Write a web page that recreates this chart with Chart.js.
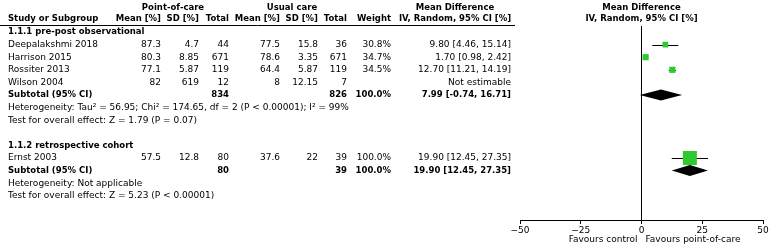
<!DOCTYPE html>
<html>
<head>
<meta charset="utf-8">
<script src="https://cdn.jsdelivr.net/npm/chart.js@4.4.1/dist/chart.umd.min.js"></script>
<style>
  html, body { margin: 0; padding: 0; background: #fff; }
  canvas { display: block; }
</style>
</head>
<body>
<canvas id="forest" width="773" height="245"></canvas>
<script>
// study level data
const studyNames = ['Deepalakshmi 2018', 'Harrison 2015', 'Rossiter 2013', 'Wilson 2004', 'Ernst 2003'];
const studyRows = [1, 2, 3, 4, 10];
const pocMean = [87.3, 80.3, 77.1, 82, 57.5];
const pocSD = [4.7, 8.85, 5.87, 619, 12.8];
const pocN = [44, 671, 119, 12, 80];
const ucMean = [77.5, 78.6, 64.4, 8, 37.6];
const ucSD = [15.8, 3.35, 5.87, 12.15, 22];
const ucN = [36, 671, 119, 7, 39];
const weights = [30.8, 34.7, 34.5, null, 100.0];
const meanDiff = [9.80, 1.70, 12.70, null, 19.90];
const ciLow = [4.46, 0.98, 11.21, null, 12.45];
const ciHigh = [15.14, 2.42, 14.19, null, 27.35];

// subgroups
const groupNames = ['1.1.1 pre-post observational', '1.1.2 retrospective cohort'];
const groupRows = [0, 9];
const subRows = [5, 11];
const subPocN = [834, 80];
const subUcN = [826, 39];
const subWeight = [100.0, 100.0];
const subMd = [7.99, 19.90];
const subLow = [-0.74, 12.45];
const subHigh = [16.71, 27.35];
const hetText = ['Heterogeneity: Tau\u00b2 = 56.95; Chi\u00b2 = 174.65, df = 2 (P < 0.00001); I\u00b2 = 99%', 'Heterogeneity: Not applicable'];
const testText = ['Test for overall effect: Z = 1.79 (P = 0.07)', 'Test for overall effect: Z = 5.23 (P < 0.00001)'];

const xTicks = [-50, -25, 0, 25, 50];

const FONT = '"DejaVu Sans", Verdana, sans-serif';
const GREEN = '#30c830';

// right edges of the table columns
const colX = { pocMean: 161, pocSD: 199, pocN: 229, ucMean: 280, ucSD: 318, ucN: 347, weight: 391, md: 511 };

function ciText(m, lo, hi) {
    return m.toFixed(2) + ' [' + lo.toFixed(2) + ', ' + hi.toFixed(2) + ']';
}

const tablePlugin = {
    id: 'forestTable',
    beforeDatasetsDraw(chart) {
        const ctx = chart.ctx;
        const xs = chart.scales.x, ys = chart.scales.y;
        ctx.save();
        ctx.strokeStyle = '#000';
        ctx.lineWidth = 1;
        // whiskers
        studyRows.forEach((r, i) => {
            if (meanDiff[i] == null) return;
            const y = Math.round(ys.getPixelForValue(r)) + 0.5;
            ctx.beginPath();
            ctx.moveTo(xs.getPixelForValue(ciLow[i]), y);
            ctx.lineTo(xs.getPixelForValue(ciHigh[i]), y);
            ctx.stroke();
        });
        ctx.restore();
    },
    afterDatasetsDraw(chart) {
        const ctx = chart.ctx;
        const xs = chart.scales.x, ys = chart.scales.y;
        ctx.save();
        // subtotal diamonds
        ctx.fillStyle = '#000';
        subRows.forEach((r, i) => {
            const y = ys.getPixelForValue(r);
            ctx.beginPath();
            ctx.moveTo(xs.getPixelForValue(subLow[i]), y);
            ctx.lineTo(xs.getPixelForValue(subMd[i]), y - 5.5);
            ctx.lineTo(xs.getPixelForValue(subHigh[i]), y);
            ctx.lineTo(xs.getPixelForValue(subMd[i]), y + 5.5);
            ctx.closePath();
            ctx.fill();
        });

        const reg = '9px ' + FONT;
        const bold = 'bold 8.5px ' + FONT;
        ctx.textBaseline = 'middle';
        const txt = (s, x, y, align, font) => {
            ctx.font = font || reg;
            ctx.textAlign = align || 'left';
            ctx.fillText(s, x, y);
        };

        // header
        const zeroX = xs.getPixelForValue(0);
        txt('Point-of-care', 173, 8, 'center', bold);
        txt('Usual care', 292, 8, 'center', bold);
        txt('Mean Difference', 455, 8, 'center', bold);
        txt('Mean Difference', zeroX, 8, 'center', bold);
        txt('Study or Subgroup', 8, 19, 'left', bold);
        txt('Mean [%]', colX.pocMean, 19, 'right', bold);
        txt('SD [%]', colX.pocSD, 19, 'right', bold);
        txt('Total', colX.pocN, 19, 'right', bold);
        txt('Mean [%]', colX.ucMean, 19, 'right', bold);
        txt('SD [%]', colX.ucSD, 19, 'right', bold);
        txt('Total', colX.ucN, 19, 'right', bold);
        txt('Weight', colX.weight, 19, 'right', bold);
        txt('IV, Random, 95% CI [%]', 455, 19, 'center', bold);
        txt('IV, Random, 95% CI [%]', zeroX, 19, 'center', bold);
        ctx.strokeStyle = '#000';
        ctx.lineWidth = 1;
        ctx.beginPath();
        ctx.moveTo(0, 25.5);
        ctx.lineTo(515, 25.5);
        ctx.stroke();

        // study rows
        ctx.fillStyle = '#000';
        studyRows.forEach((r, i) => {
            const y = ys.getPixelForValue(r);
            txt(studyNames[i], 8, y);
            txt(String(pocMean[i]), colX.pocMean, y, 'right');
            txt(String(pocSD[i]), colX.pocSD, y, 'right');
            txt(String(pocN[i]), colX.pocN, y, 'right');
            txt(String(ucMean[i]), colX.ucMean, y, 'right');
            txt(String(ucSD[i]), colX.ucSD, y, 'right');
            txt(String(ucN[i]), colX.ucN, y, 'right');
            if (weights[i] != null) txt(weights[i].toFixed(1) + '%', colX.weight, y, 'right');
            txt(meanDiff[i] == null ? 'Not estimable' : ciText(meanDiff[i], ciLow[i], ciHigh[i]), colX.md, y, 'right');
        });

        // subgroup rows
        groupRows.forEach((r, i) => {
            txt(groupNames[i], 8, ys.getPixelForValue(r), 'left', bold);
            const y = ys.getPixelForValue(subRows[i]);
            txt('Subtotal (95% CI)', 8, y, 'left', bold);
            txt(String(subPocN[i]), colX.pocN, y, 'right', bold);
            txt(String(subUcN[i]), colX.ucN, y, 'right', bold);
            txt(subWeight[i].toFixed(1) + '%', colX.weight, y, 'right', bold);
            txt(ciText(subMd[i], subLow[i], subHigh[i]), colX.md, y, 'right', bold);
            txt(hetText[i], 8, ys.getPixelForValue(subRows[i] + 1));
            txt(testText[i], 8, ys.getPixelForValue(subRows[i] + 2));
        });

        // axis captions
        txt('Favours control', zeroX - 4, 240, 'right');
        txt('Favours point-of-care', zeroX + 4, 240, 'left');
        ctx.restore();
    }
};

const points = [];
const radii = [];
studyRows.forEach((r, i) => {
    if (meanDiff[i] == null) return;
    points.push({ x: meanDiff[i], y: r });
    // square side grows with weight
    radii.push((2 + weights[i] * 0.12) / Math.SQRT2);
});

const ctx = document.getElementById('forest').getContext('2d');
const forest = new Chart(ctx, {
    type: 'scatter',
    data: {
        datasets: [{
            data: points,
            pointStyle: 'rect',
            pointRadius: radii,
            pointHoverRadius: radii,
            backgroundColor: GREEN,
            borderWidth: 0
        }]
    },
    options: {
        responsive: false,
        animation: false,
        events: [],
        layout: { padding: { left: 520, right: 10, top: 26, bottom: 0 } },
        plugins: { legend: { display: false }, tooltip: { enabled: false } },
        scales: {
            x: {
                type: 'linear',
                min: -50,
                max: 50,
                afterBuildTicks: s => { s.ticks = xTicks.map(v => ({ value: v })); },
                afterFit: s => { s.height = 25; },
                border: { display: true, color: '#000', width: 1 },
                grid: {
                    drawOnChartArea: true,
                    color: c => (c.tick && c.tick.value === 0) ? '#000' : 'rgba(0,0,0,0)',
                    tickColor: '#000',
                    tickLength: 4
                },
                ticks: {
                    color: '#000',
                    padding: 1,
                    maxRotation: 0,
                    font: { family: FONT, size: 9 },
                    callback: v => String(v).replace('-', '\u2212')
                }
            },
            y: { type: 'linear', display: false, reverse: true, min: -0.476, max: 14.92 }
        }
    },
    plugins: [tablePlugin]
});
</script>
</body>
</html>
